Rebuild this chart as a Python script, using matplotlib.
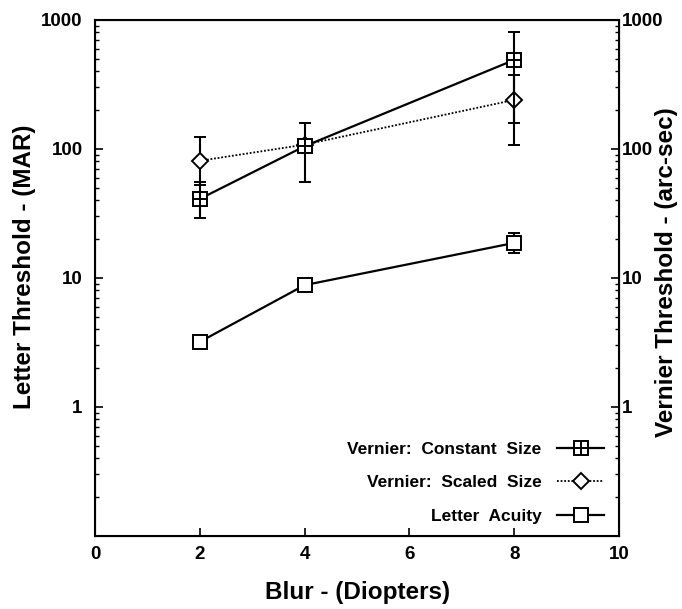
import matplotlib
matplotlib.use("Agg")
import matplotlib.pyplot as plt
from matplotlib.ticker import FixedLocator, NullFormatter, LogLocator
from matplotlib.lines import Line2D

plt.rcParams["font.family"] = ["Liberation Sans", "DejaVu Sans"]
plt.rcParams["font.weight"] = "bold"

blur = [2, 4, 8]

constant_size = [41, 105, 490]
constant_lo = [29, 55, 160]
constant_hi = [55, 159, 810]

scaled_size = [81, 108, 240]
scaled_lo = [53, 108, 107]
scaled_hi = [124, 108, 375]

letter_acuity = [3.2, 8.8, 18.7]
letter_lo = [3.2, 8.8, 15.6]
letter_hi = [3.2, 8.8, 22.3]

y_ticks = [1, 10, 100, 1000]
x_ticks = [0, 2, 4, 6, 8, 10]


def err(vals, lo, hi):
    return [[v - l for v, l in zip(vals, lo)], [h - v for v, h in zip(vals, hi)]]


fig = plt.figure(figsize=(6.82, 6.09), dpi=100)
ax = fig.add_axes([0.1393, 0.1199, 0.7683, 0.8473])

lw = 1.6
msq = 10
mdia = 8
mew = 1.4
# constant size: square with a plus inside
ax.errorbar(blur, constant_size, yerr=err(constant_size, constant_lo, constant_hi),
            color="black", lw=lw, capsize=4, capthick=1.5, elinewidth=1.5,
            marker="s", markersize=msq, markerfacecolor="white",
            markeredgecolor="black", markeredgewidth=mew, zorder=3)
ax.plot(blur, constant_size, ls="none", marker="+", markersize=msq,
        markeredgewidth=mew, color="black", zorder=4)

ax.errorbar(blur, scaled_size, yerr=err(scaled_size, scaled_lo, scaled_hi),
            color="black", lw=1.3, ls=(0, (1, 1)), capsize=4, capthick=1.5, elinewidth=1.5,
            marker="D", markersize=mdia, markerfacecolor="white",
            markeredgecolor="black", markeredgewidth=mew, zorder=2)

ax.errorbar(blur, letter_acuity, yerr=err(letter_acuity, letter_lo, letter_hi),
            color="black", lw=lw, capsize=4, capthick=1.5, elinewidth=1.5,
            marker="s", markersize=msq, markerfacecolor="white",
            markeredgecolor="black", markeredgewidth=mew, zorder=3)

ax.set_yscale("log")
ax.set_ylim(0.1, 1000)
ax.set_xlim(0, 10)
ax.set_xticks(x_ticks)
ax.set_xticklabels([str(t) for t in x_ticks])
ax.yaxis.set_major_locator(FixedLocator(y_ticks))
ax.set_yticklabels([str(t) for t in y_ticks])
ax.yaxis.set_minor_locator(LogLocator(base=10, subs=range(2, 10)))
ax.yaxis.set_minor_formatter(NullFormatter())
ax.tick_params(axis="both", which="major", direction="in", length=6, width=1.2, labelsize=13.5)
ax.tick_params(axis="y", which="minor", direction="in", length=3, width=1)
ax.tick_params(axis="x", pad=7)
ax.tick_params(axis="y", pad=9)
for s in ax.spines.values():
    s.set_linewidth(1.5)

ax2 = ax.twinx()
ax2.set_yscale("log")
ax2.set_ylim(0.1, 1000)
ax2.yaxis.set_major_locator(FixedLocator(y_ticks))
ax2.set_yticklabels([str(t) for t in y_ticks])
ax2.yaxis.set_minor_locator(LogLocator(base=10, subs=range(2, 10)))
ax2.yaxis.set_minor_formatter(NullFormatter())
ax2.tick_params(axis="y", which="major", direction="in", length=6, width=1.2, labelsize=13.5, pad=2)
ax2.tick_params(axis="y", which="minor", direction="in", length=3, width=1)

fig.text(358 / 682, 1 - 593 / 609, "Blur - (Diopters)", fontsize=17.5, fontweight="bold",
         ha="center", va="center")
fig.text(25 / 682, 1 - 267 / 609, "Letter Threshold - (MAR)", fontsize=17.5, fontweight="bold",
         ha="center", va="center", rotation=90)
fig.text(667 / 682, 1 - 272 / 609, "Vernier Threshold - (arc-sec)", fontsize=17.5,
         fontweight="bold", ha="center", va="center", rotation=90)

h_const = (Line2D([], [], color="black", lw=lw, marker="s", markersize=msq,
                  markerfacecolor="white", markeredgewidth=mew),
           Line2D([], [], ls="none", color="black", marker="+", markersize=msq,
                  markeredgewidth=mew))
h_scaled = Line2D([], [], color="black", lw=1.3, ls=(0, (1, 1)), marker="D", markersize=mdia,
                  markerfacecolor="white", markeredgewidth=mew)
h_letter = Line2D([], [], color="black", lw=lw, marker="s", markersize=msq,
                  markerfacecolor="white", markeredgewidth=mew)
leg = ax.legend([h_const, h_scaled, h_letter],
                ["Vernier:  Constant  Size", "Vernier:  Scaled  Size", "Letter  Acuity"],
                loc="lower right", markerfirst=False, frameon=False,
                prop={"size": 12.5, "weight": "bold"}, handlelength=2.7,
                labelspacing=1.05, borderaxespad=0.3, handletextpad=0.9,
                bbox_to_anchor=(0.995, 0.0))
for t in leg.get_texts():
    t.set_ha("right")

fig.savefig("out.png", dpi=100)
